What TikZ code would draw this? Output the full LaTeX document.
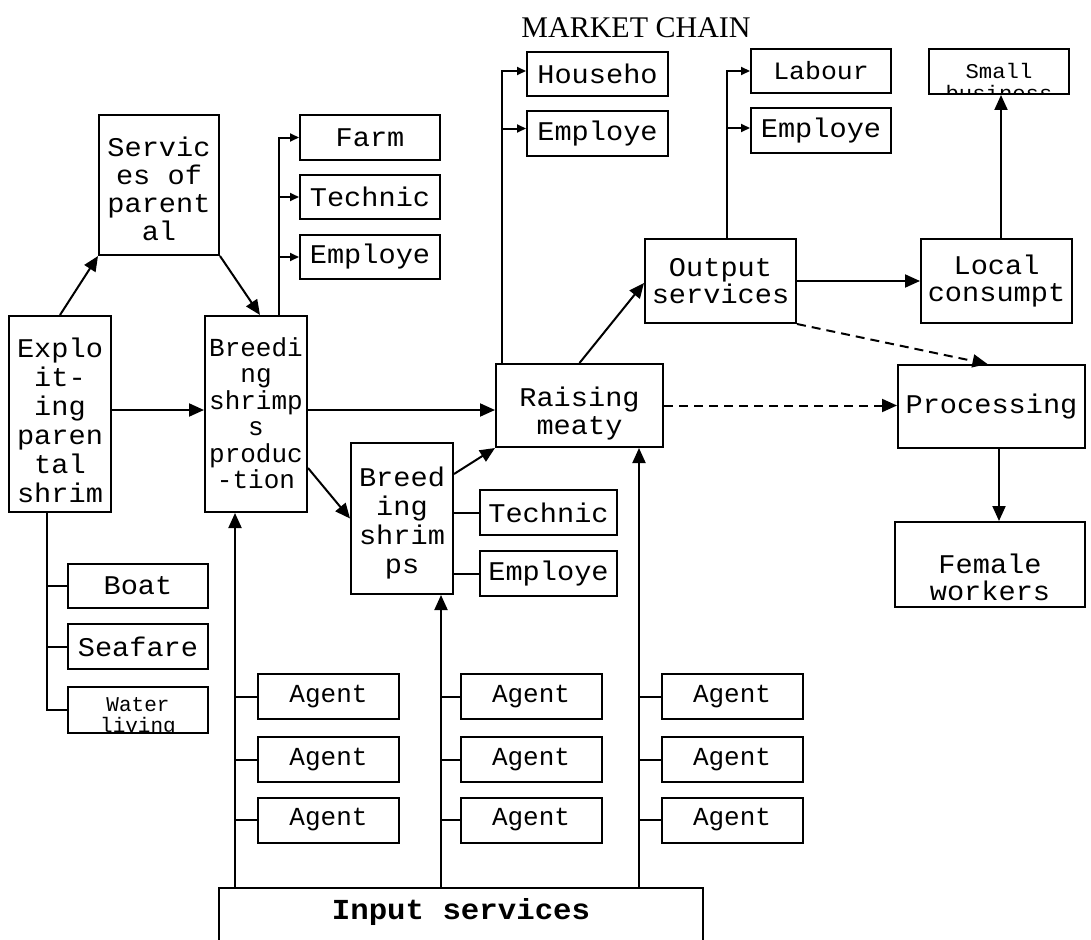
\documentclass[tikz,border=0pt]{standalone}
\usepackage{fontspec}
\setmainfont{Liberation Serif}
\newfontfamily\cn[FakeStretch=1.06]{Liberation Mono}
\newfontfamily\cnn{Liberation Mono}
\usetikzlibrary{arrows.meta}
\begin{document}
\begin{tikzpicture}[x=1pt,y=-1pt,
  box/.style={draw, line width=2pt, inner sep=0pt, align=center,
    font=\cn\fontsize{27}{28}\selectfont},
  lbl/.style={inner sep=0pt, align=center, font=\cn\fontsize{27}{28}\selectfont},
  agent/.style={box, minimum width=141pt, minimum height=45pt, font=\cnn\fontsize{26}{28}\selectfont},
  ln/.style={line width=2pt},
  bigarr/.style={ln, -{Triangle[length=15pt,width=13pt]}},
  smallarr/.style={ln, -{Triangle[length=9pt,width=8pt]}},
  dsh/.style={bigarr, dash pattern=on 9pt off 6pt},
  ttl/.style={inner sep=0pt, font=\fontsize{30}{32}\selectfont}]
\useasboundingbox (0,0) rectangle (1091,939);

\node[ttl] (title) at (636,28) {MARKET CHAIN};

% main vertical boxes
\node[box, minimum width=120pt, minimum height=140pt] (serv) at (159,185) {};
\node[lbl, anchor=north] (servT) at (159,137) {Servic\\es of\\parent\\al};
\node[box, minimum width=102pt, minimum height=196pt] (expl) at (60,414) {};
\node[lbl, anchor=north, font=\cn\fontsize{27}{29}\selectfont] (explT) at (60,338) {Explo\\it-\\ing\\paren\\tal\\shrim};
\node[box, minimum width=102pt, minimum height=196pt] (bsp) at (256,414) {};
\node[lbl, anchor=north, font=\cnn\fontsize{26}{26.5}\selectfont] (bspT) at (256,337) {Breedi\\ng\\shrimp\\s\\produc\\-tion};
\node[box, minimum width=102pt, minimum height=151pt] (bs2) at (402,518.5) {};
\node[lbl, anchor=north, font=\cn\fontsize{27}{29}\selectfont] (bs2T) at (402,467) {Breed\\ing\\shrim\\ps};
\node[box, minimum width=167pt, minimum height=83pt] (rais) at (579.5,405.5) {};
\node[lbl, anchor=north] (raisT) at (579.5,387) {Raising\\meaty};

% branch boxes
\node[box, minimum width=140pt, minimum height=45pt] (farm) at (370,137.5) {Farm};
\node[box, minimum width=140pt, minimum height=44pt] (tech1) at (370,197) {Technic};
\node[box, minimum width=140pt, minimum height=44pt] (empl1) at (370,257) {Employe};
\node[box, minimum width=141pt, minimum height=44pt] (hh) at (597.5,74) {Househo};
\node[box, minimum width=141pt, minimum height=45pt] (empl2) at (597.5,133.5) {Employe};
\node[box, minimum width=140pt, minimum height=44pt, font=\cn\fontsize{25}{26}\selectfont] (lab) at (821,71) {Labour};
\node[box, minimum width=140pt, minimum height=45pt] (empl3) at (821,130.5) {Employe};
\begin{scope}
  \clip (929,49) rectangle (1069,93);
  \node[lbl, anchor=north, font=\cn\fontsize{21}{22}\selectfont] (smallT) at (999,63) {Small\\business};
\end{scope}
\node[box, minimum width=140pt, minimum height=45pt] (small) at (999,71.5) {};
\node[box, minimum width=151pt, minimum height=84pt, font=\cn\fontsize{27}{26.5}\selectfont] (outp) at (720.5,281) {Output\\services};
\node[box, minimum width=151pt, minimum height=84pt, font=\cn\fontsize{27}{26.5}\selectfont] (local) at (996.5,281) {Local\\consumpt};
\node[box, minimum width=137pt, minimum height=45pt] (tech2) at (548.5,512.5) {Technic};
\node[box, minimum width=137pt, minimum height=45pt] (empl4) at (548.5,573.5) {Employe};
\node[box, minimum width=187pt, minimum height=83pt] (proc) at (991.5,406.5) {Processing};
\node[box, minimum width=190pt, minimum height=85pt] (fem) at (990,564.5) {};
\node[lbl, anchor=north, font=\cn\fontsize{27}{27}\selectfont] (femT) at (990,554) {Female\\workers};

\node[box, minimum width=140pt, minimum height=44pt] (boat) at (138,586) {Boat};
\node[box, minimum width=140pt, minimum height=45pt] (sea) at (138,646.5) {Seafare};
\begin{scope}
  \clip (68,687) rectangle (208,732);
  \node[lbl, anchor=north, font=\cnn\fontsize{21}{21}\selectfont] (waterT) at (138,697) {Water\\living};
\end{scope}
\node[box, minimum width=140pt, minimum height=46pt] (water) at (138,710) {};

% agents
\node[agent] (a13) at (328.5,696.5) {Agent};
\node[agent] (a12) at (328.5,759.5) {Agent};
\node[agent] (a11) at (328.5,820) {Agent};
\node[agent] (a23) at (531,696.5) {Agent};
\node[agent] (a22) at (531,759.5) {Agent};
\node[agent] (a21) at (531,820) {Agent};
\node[agent] (a33) at (732,696.5) {Agent};
\node[agent] (a32) at (732,759.5) {Agent};
\node[agent] (a31) at (732,820) {Agent};

\node[box, minimum width=484pt, minimum height=72pt] (inp) at (461,924) {};
\node[lbl, font=\cn\bfseries\fontsize{29}{31}\selectfont] (inpT) at (461,912) {Input services};

% connectors
\draw[bigarr] (expl.north) -- (serv.south west);
\draw[bigarr] (serv.south east) -- ([xshift=4pt]bsp.north);
\draw[bigarr] ([yshift=4pt]expl.east) -- ([yshift=4pt]bsp.west);
\draw[bigarr] ([yshift=4pt]bsp.east) -- ([yshift=4pt]bsp.east -| rais.west);
\draw[bigarr] ([yshift=-54pt]bsp.east) -- (bs2.west);
\draw[bigarr] ([yshift=-32pt]bs2.north east) -- (rais.south west);
\draw[bigarr] (rais.north) -- ([yshift=-2pt]outp.west);
\draw[bigarr] (outp.east) -- (local.west);
\draw[bigarr] ([xshift=4.5pt]local.north) -- ([xshift=4.5pt]local.north |- small.south);
\draw[bigarr] ([xshift=7.5pt]proc.south) -- ([xshift=7.5pt]proc.south |- fem.north);
\draw[dsh] (rais.east) -- (rais.east -| proc.west);
\draw[dsh] (outp.south east) -- ([xshift=-4pt]proc.north);

% branches with small arrows
\draw[smallarr] ([xshift=23pt]bsp.north) |- (farm.west);
\draw[smallarr] ([xshift=23pt]bsp.north) |- (tech1.west);
\draw[smallarr] ([xshift=23pt]bsp.north) |- (empl1.west);
\draw[smallarr] ([xshift=7pt]rais.north west) |- ([yshift=3pt]hh.west);
\draw[smallarr] ([xshift=7pt]rais.north west) |- ([yshift=5pt]empl2.west);
\draw[smallarr] ([xshift=6.5pt]outp.north) |- (lab.west);
\draw[smallarr] ([xshift=6.5pt]outp.north) |- ([yshift=2.5pt]empl3.west);

% plain branches
\draw[ln] (bs2.east |- tech2.west) -- (tech2.west);
\draw[ln] (bs2.east |- empl4.west) -- (empl4.west);
\draw[ln] ([xshift=-13pt]expl.south) |- (water.west);
\draw[ln] ([xshift=-13pt]expl.south |- boat.west) -- (boat.west);
\draw[ln] ([xshift=-13pt]expl.south |- sea.west) -- (sea.west);

% input service columns
\draw[bigarr] ([xshift=-21pt]bsp.south |- inp.north) -- ([xshift=-21pt]bsp.south);
\draw[bigarr] ([xshift=39pt]bs2.south |- inp.north) -- ([xshift=39pt]bs2.south);
\draw[bigarr] ([xshift=59.5pt]rais.south |- inp.north) -- ([xshift=59.5pt]rais.south);
\foreach \a in {a13,a12,a11}{\draw[ln] ([xshift=-21pt]bsp.south |- \a.west) -- (\a.west);}
\foreach \a in {a23,a22,a21}{\draw[ln] ([xshift=39pt]bs2.south |- \a.west) -- (\a.west);}
\foreach \a in {a33,a32,a31}{\draw[ln] ([xshift=59.5pt]rais.south |- \a.west) -- (\a.west);}
\end{tikzpicture}
\end{document}
